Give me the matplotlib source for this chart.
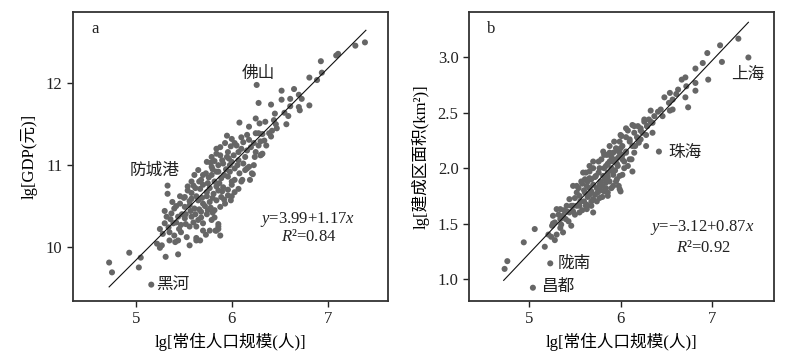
import matplotlib
matplotlib.use("Agg")
import matplotlib.pyplot as plt
import numpy as np

plt.rcParams['font.family'] = ['Liberation Serif', 'Noto Sans CJK SC', 'DejaVu Sans']
plt.rcParams['mathtext.fontset'] = 'custom'
plt.rcParams['mathtext.rm'] = 'Liberation Serif'
plt.rcParams['mathtext.it'] = 'Liberation Serif:italic'

# ---------------- Panel a: lg population vs lg GDP ----------------
pop_a = [7.39, 7.29, 7.11, 7.09, 6.93, 6.94, 6.81, 6.89, 6.26, 6.52, 6.65, 6.70, 6.73, 6.61, 6.52,
         6.28, 6.41, 6.81, 6.70, 6.61, 6.71, 6.25, 6.45, 6.55, 6.59, 6.44, 6.47, 6.57, 6.46,
         5.44, 5.31, 5.25, 5.22, 5.27, 5.41, 4.93, 5.05, 5.03, 4.72, 4.75, 5.16, 5.33, 5.33,
         6.23, 6.22, 6.16, 6.11, 6.00, 5.99, 5.86, 5.83, 5.86, 5.82, 5.73, 5.67, 5.63,
         6.08, 6.18, 6.29, 6.35, 6.25, 6.16, 6.10, 6.34, 6.28, 6.23, 6.18, 6.03, 5.99, 5.93,
         5.88, 5.96, 6.07, 6.16, 6.25, 6.32, 6.30, 6.42, 6.41, 6.39, 6.32, 6.28, 6.30, 6.31, 6.36,
         6.21, 6.14, 6.03, 6.00, 6.07, 5.95, 5.88, 5.84, 5.79, 5.74, 5.79, 5.86, 5.91, 5.84,
         5.79, 5.73, 5.65, 5.61, 5.68, 5.75, 5.82, 5.89, 5.96, 6.03, 6.10, 6.19, 6.00, 5.91,
         5.86, 5.81, 5.74, 5.67, 5.60, 5.54, 5.51, 5.58, 5.65, 5.70, 5.77, 5.84, 5.89, 5.96,
         6.03, 6.07, 5.93, 5.88, 5.82, 5.75, 5.68, 5.61, 5.56, 5.51, 5.46, 5.40, 5.37, 5.44,
         5.51, 5.58, 5.65, 5.70, 5.79, 5.86, 5.88, 5.84, 5.77, 5.70, 5.63, 5.56, 5.47, 5.39,
         5.30, 5.25, 5.28, 5.35, 5.40, 5.44, 5.53, 5.56, 5.63, 5.35, 5.47, 5.32,
         5.52, 5.57, 5.62, 5.66, 5.72, 5.78, 5.80, 5.74, 5.69, 5.63, 5.58, 5.62, 5.70, 5.77,
         5.84, 5.87, 5.92, 5.86, 5.80, 5.76, 5.70, 5.66, 5.94, 5.98, 6.02, 5.97, 5.90, 6.06,
         6.12, 6.08, 6.14, 6.10, 6.05, 6.00, 5.95, 6.12, 6.20, 6.24, 5.48, 5.42, 5.36, 5.30,
         5.34, 5.45, 5.52, 5.60, 5.68, 5.74, 5.80, 5.56, 5.50, 5.46, 5.42, 5.38, 5.58, 5.54,
         5.96, 6.00, 5.92, 5.90, 5.98, 6.18, 5.82, 5.84, 5.78]
gdp_a = [12.50, 12.46, 12.36, 12.34, 12.27, 12.13, 12.07, 12.04, 11.98, 11.91, 11.93, 11.86, 11.81, 11.81, 11.80,
         11.76, 11.74, 11.73, 11.71, 11.72, 11.67, 11.57, 11.63, 11.64, 11.60, 11.55, 11.45, 11.50, 11.50,
         9.91, 9.88, 9.99, 10.04, 10.02, 10.06, 9.93, 9.87, 9.75, 9.81, 9.69, 9.54, 10.75, 10.65,
         11.00, 10.89, 10.96, 10.82, 10.80, 10.57, 10.22, 10.20, 10.28, 10.36, 10.15, 10.08, 10.11,
         11.52, 11.47, 11.51, 11.53, 11.39, 11.37, 11.34, 11.30, 11.24, 11.27, 11.31, 11.27, 11.23, 11.27,
         11.22, 11.16, 11.16, 11.18, 11.16, 11.14, 11.12, 11.42, 11.35, 11.39, 11.38, 11.39, 11.29, 11.13, 11.24,
         10.90, 10.94, 10.96, 11.04, 11.06, 11.10, 11.12, 11.14, 11.10, 11.04, 10.98, 11.00, 11.02, 10.92,
         10.88, 10.90, 10.94, 10.88, 10.82, 10.78, 10.80, 10.84, 10.86, 10.82, 10.80, 10.82, 10.76, 10.73,
         10.69, 10.65, 10.67, 10.71, 10.75, 10.69, 10.61, 10.59, 10.57, 10.53, 10.55, 10.57, 10.61, 10.63,
         10.67, 10.71, 10.53, 10.49, 10.45, 10.45, 10.43, 10.47, 10.51, 10.49, 10.53, 10.47, 10.41, 10.37,
         10.35, 10.37, 10.33, 10.29, 10.33, 10.25, 10.14, 10.20, 10.20, 10.20, 10.25, 10.25, 10.27, 10.29,
         10.29, 10.22, 10.16, 10.18, 10.14, 10.08, 10.12, 10.02, 10.08, 10.08, 10.18, 10.37,
         10.40, 10.44, 10.40, 10.46, 10.50, 10.48, 10.60, 10.62, 10.60, 10.62, 10.66, 10.72, 10.76, 10.72,
         10.74, 10.78, 10.88, 10.92, 10.95, 10.85, 10.88, 10.80, 10.95, 11.00, 11.12, 11.08, 11.06, 11.00,
         11.02, 10.90, 11.10, 11.20, 11.24, 11.32, 11.36, 11.28, 11.22, 11.10, 10.40, 10.30, 10.34, 10.44,
         10.24, 10.22, 10.28, 10.30, 10.36, 10.40, 10.42, 10.56, 10.60, 10.62, 10.50, 10.55, 10.80, 10.74,
         10.70, 10.62, 10.58, 10.68, 10.92, 10.98, 11.05, 11.20, 11.03]

# ---------------- Panel b: lg population vs lg built-up area ----------------
pop_b = [7.29, 7.09, 7.40, 6.95, 7.11, 6.90, 6.82, 6.96, 6.71, 6.67, 6.82, 6.72, 6.82, 6.63, 6.54,
         6.61, 6.48, 6.71, 6.74, 6.57, 6.53, 6.57, 6.44, 6.41, 6.33, 6.54, 6.46, 6.37, 6.26, 6.33,
         6.15, 6.06, 6.22, 6.29, 6.42, 5.23, 5.04, 4.76, 4.73, 4.94, 5.06, 5.17, 5.26, 5.28, 5.24,
         6.00, 6.28,
         6.26, 6.31, 6.35, 6.29, 6.19, 6.13, 6.22, 6.15, 6.08, 6.28, 6.35, 6.19, 6.10, 6.01, 5.99,
         5.93, 6.20, 6.13, 6.02, 5.95, 5.88, 6.06, 5.99, 5.92, 5.85, 5.81, 6.15, 6.10, 6.02, 5.95,
         5.88, 5.79, 5.70, 6.13, 6.04, 5.97, 5.90, 5.84, 5.77, 5.66, 5.59, 5.99, 5.92, 5.86, 5.81,
         5.73, 5.66, 5.61, 5.57, 5.52, 5.48, 5.63, 5.70, 5.77, 5.84, 5.95, 5.90, 5.82, 5.75, 5.68,
         5.61, 5.55, 5.50, 5.44, 5.41, 5.48, 5.55, 5.63, 5.70, 5.77, 5.86, 5.99, 5.34, 5.41, 5.48,
         5.55, 5.63, 5.37, 5.30, 5.26, 5.34, 5.43, 5.46, 5.35, 5.28, 5.25, 5.37, 5.30, 5.34, 5.21,
         5.60, 5.64, 5.68, 5.72, 5.66, 5.60, 5.74, 5.78, 5.80, 5.83, 5.86, 5.88, 5.90, 5.94,
         5.96, 5.92, 5.98, 6.02, 6.04, 6.06, 6.00, 5.96, 5.90, 5.86, 5.82, 5.76, 5.72, 5.68,
         5.64, 5.58, 5.54, 5.52, 5.56, 5.62, 5.68, 5.74, 5.80, 5.86, 5.92, 5.96, 6.02, 6.08,
         6.12, 6.16, 6.10, 6.06, 6.00, 6.18, 6.22, 6.24, 5.46, 5.44, 5.38, 5.32, 5.40, 5.50,
         5.58, 5.52, 5.70, 5.66, 5.84, 5.78, 5.88, 5.82, 5.76, 5.70, 5.62, 5.66, 5.98]
area_b = [3.17, 3.11, 3.00, 3.04, 2.96, 2.95, 2.90, 2.80, 2.82, 2.80, 2.77, 2.74, 2.70, 2.71, 2.68,
          2.67, 2.64, 2.64, 2.55, 2.62, 2.59, 2.53, 2.53, 2.51, 2.52, 2.52, 2.47, 2.47, 2.44, 2.42,
          2.38, 2.36, 2.36, 2.38, 2.15, 1.14, 0.92, 1.16, 1.09, 1.33, 1.45, 1.29, 1.50, 1.35, 1.38,
          1.79, 2.20,
          2.42, 2.44, 2.41, 2.38, 2.38, 2.39, 2.34, 2.32, 2.34, 2.30, 2.32, 2.27, 2.26, 2.29, 2.24,
          2.24, 2.23, 2.20, 2.20, 2.18, 2.20, 2.15, 2.14, 2.14, 2.12, 2.15, 2.14, 2.08, 2.08, 2.08,
          2.06, 2.08, 2.06, 1.97, 2.00, 2.02, 2.00, 2.02, 2.00, 1.97, 1.96, 1.93, 1.94, 1.96, 1.93,
          1.93, 1.91, 1.90, 1.88, 1.84, 1.84, 1.84, 1.85, 1.85, 1.87, 1.88, 1.82, 1.79, 1.78, 1.79,
          1.78, 1.75, 1.73, 1.72, 1.66, 1.66, 1.66, 1.67, 1.72, 1.73, 1.75, 1.81, 1.63, 1.61, 1.61,
          1.60, 1.63, 1.57, 1.63, 1.57, 1.54, 1.52, 1.48, 1.49, 1.51, 1.48, 1.42, 1.40, 1.46, 1.40,
          1.70, 1.74, 1.70, 1.76, 1.82, 1.80, 1.82, 1.88, 1.84, 1.90, 1.92, 1.88, 1.98, 1.98,
          2.04, 2.06, 2.10, 2.12, 2.06, 2.14, 2.18, 2.16, 2.10, 2.04, 2.00, 1.96, 1.92, 1.90,
          1.88, 1.86, 1.82, 1.78, 1.70, 1.66, 1.66, 1.70, 1.74, 1.78, 1.84, 1.90, 1.94, 2.02,
          2.08, 2.20, 2.24, 2.28, 2.30, 2.28, 2.26, 2.32, 1.66, 1.60, 1.62, 1.58, 1.54, 1.58,
          1.62, 1.66, 1.60, 1.76, 1.82, 1.80, 2.14, 2.12, 2.06, 2.00, 1.96, 2.02, 1.84]

fit_a = (3.99, 1.17)
fit_b = (-3.12, 0.87)
fit_range = (4.72, 7.40)

xlabel = 'lg[常住人口规模(人)]'
ylabel_a = 'lg[GDP(元)]'
ylabel_b = 'lg[建成区面积(km²)]'

fig = plt.figure(figsize=(7.93, 3.56), dpi=100)
ax1 = fig.add_axes([0.0917, 0.1545, 0.3975, 0.8115])
ax2 = fig.add_axes([0.5914, 0.1545, 0.3846, 0.8115])

dot_color = '#666666'
fs = 12

def style(ax):
    for s in ax.spines.values():
        s.set_linewidth(1.3)
        s.set_color('#333333')
    ax.tick_params(direction='out', length=4, width=1, labelsize=fs, colors='#222222')

for ax, xs, ys, fit in [(ax1, pop_a, gdp_a, fit_a), (ax2, pop_b, area_b, fit_b)]:
    ax.scatter(xs, ys, s=19, color=dot_color, edgecolors='none', zorder=2)
    lx = np.array(fit_range)
    ax.plot(lx, fit[0] + fit[1] * lx, color='#111111', lw=0.8, zorder=3)
    ax.set_xticks([5, 6, 7])
    style(ax)
    ax.set_xlabel(xlabel, fontsize=fs, labelpad=4)

ax1.set_xlim(4.34, 7.63)
ax1.set_ylim(9.34, 12.87)
ax1.set_yticks([10, 11, 12])
ax1.set_ylabel(ylabel_a, fontsize=fs, labelpad=6)

ax2.set_xlim(4.34, 7.68)
ax2.set_ylim(0.80, 3.41)
ax2.set_yticks([1.0, 1.5, 2.0, 2.5, 3.0])
ax2.set_yticklabels(['1.0', '1.5', '2.0', '2.5', '3.0'])
ax2.set_ylabel(ylabel_b, fontsize=fs, labelpad=6)

tc = '#222222'
ax1.text(0.06, 0.94, 'a', transform=ax1.transAxes, fontsize=fs, ha='left', va='center', color=tc)
ax2.text(0.06, 0.94, 'b', transform=ax2.transAxes, fontsize=fs, ha='left', va='center', color=tc)

ax1.text(6.28, 12.11, '佛山', fontsize=fs, ha='center', va='center', color=tc)
ax1.text(5.19, 10.93, '防城港', fontsize=fs, ha='center', va='center', color=tc)
ax1.text(5.21, 9.54, '黑河', fontsize=fs, ha='left', va='center', color=tc)
ax1.text(6.79, 10.34, '$y$=3.99+1.17$x$', fontsize=fs, ha='center', va='center', color=tc)
ax1.text(6.80, 10.12, '$R$²=0.84', fontsize=fs, ha='center', va='center', color=tc)

ax2.text(7.39, 2.84, '上海', fontsize=fs, ha='center', va='center', color=tc)
ax2.text(6.52, 2.14, '珠海', fontsize=fs, ha='left', va='center', color=tc)
ax2.text(5.31, 1.13, '陇南', fontsize=fs, ha='left', va='center', color=tc)
ax2.text(5.13, 0.93, '昌都', fontsize=fs, ha='left', va='center', color=tc)
ax2.text(6.89, 1.46, '$y$=\u22123.12+0.87$x$', fontsize=fs, ha='center', va='center', color=tc)
ax2.text(6.91, 1.28, '$R$²=0.92', fontsize=fs, ha='center', va='center', color=tc)

fig.savefig('out.png', dpi=100)
